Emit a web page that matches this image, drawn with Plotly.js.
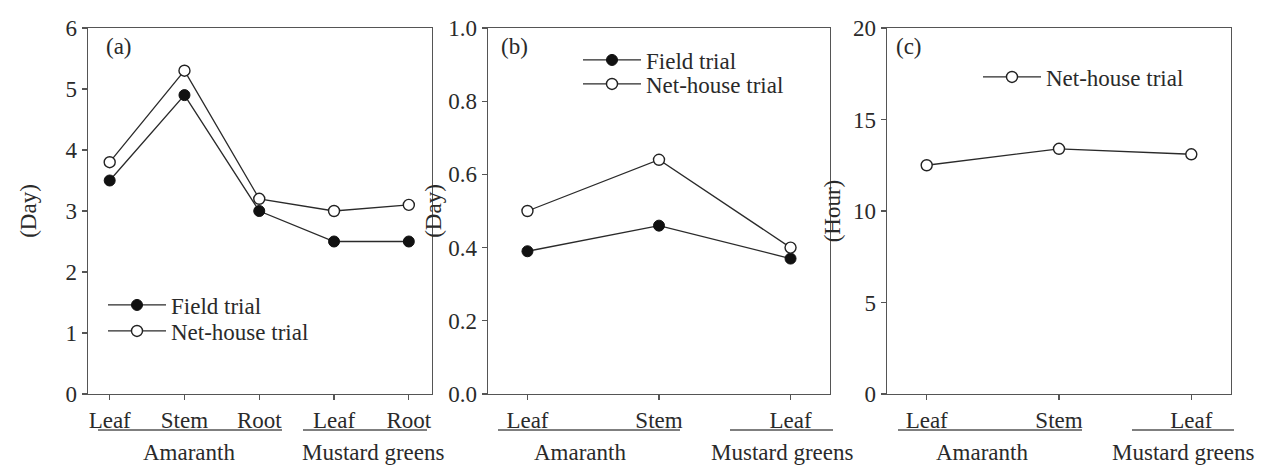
<!DOCTYPE html>
<html>
<head>
<meta charset="utf-8">
<script src="https://cdn.plot.ly/plotly-3.0.1.min.js"></script>
<style>html,body{margin:0;padding:0;background:#fff;}#chart{width:1268px;height:472px;}</style>
</head>
<body>
<div id="chart"></div>
<script>
// ---- data ----
var catsA = ["Leaf", "Stem", "Root", "Leaf", "Root"];
var catsB = ["Leaf", "Stem", "Leaf"];
var catsC = ["Leaf", "Stem", "Leaf"];
var groupsA = ["Amaranth", "Mustard greens"];
var fieldA = [3.5, 4.9, 3.0, 2.5, 2.5];
var netA = [3.8, 5.3, 3.2, 3.0, 3.1];
var fieldB = [0.39, 0.46, 0.37];
var netB = [0.50, 0.64, 0.40];
var netC = [12.5, 13.4, 13.1];
var yTitleA = "(Day)", yTitleB = "(Day)", yTitleC = "(Hour)";
var panelLabels = ["(a)", "(b)", "(c)"];
var seriesNames = ["Field trial", "Net-house trial"];

// ---- layout helpers ----
var W = 1268, H = 472;
function px(x) { return x / W; }
function py(y) { return 1 - y / H; }
function idx(a) { return a.map(function (_, i) { return i; }); }

var FONT = "Liberation Serif, Times New Roman, serif";
var FS = 23;
var INK = "#2a2a2a";
var AX = "#555555";

var lineStyle = { color: INK, width: 1.3 };
var filled = { symbol: "circle", size: 11, color: "#111", line: { color: "#111", width: 1 } };
var open = { symbol: "circle", size: 11, color: "#fff", line: { color: "#222", width: 1.4 } };

var traces = [
  { x: idx(catsA), y: fieldA, xaxis: "x", yaxis: "y", mode: "lines+markers", name: seriesNames[0], line: lineStyle, marker: filled, legend: "legend" },
  { x: idx(catsA), y: netA, xaxis: "x", yaxis: "y", mode: "lines+markers", name: seriesNames[1], line: lineStyle, marker: open, legend: "legend2" },
  { x: idx(catsB), y: fieldB, xaxis: "x2", yaxis: "y2", mode: "lines+markers", name: seriesNames[0], line: lineStyle, marker: filled, legend: "legend3" },
  { x: idx(catsB), y: netB, xaxis: "x2", yaxis: "y2", mode: "lines+markers", name: seriesNames[1], line: lineStyle, marker: open, legend: "legend4" },
  { x: idx(catsC), y: netC, xaxis: "x3", yaxis: "y3", mode: "lines+markers", name: seriesNames[1], line: lineStyle, marker: open, legend: "legend5" }
];

function xAxis(domain, cats, range, anchor) {
  return {
    domain: domain, anchor: anchor, range: range,
    tickmode: "array", tickvals: idx(cats), ticktext: cats,
    showline: true, mirror: true, linecolor: AX, linewidth: 1.4,
    ticks: "outside", ticklen: 5, tickcolor: AX, tickwidth: 1.2,
    showgrid: false, zeroline: false,
    tickfont: { family: FONT, size: FS, color: INK }
  };
}
function yAxis(domain, range, dtick, fmt, title, anchor, standoff) {
  return {
    domain: domain, anchor: anchor, range: range, dtick: dtick, tick0: 0,
    tickformat: fmt,
    showline: true, mirror: true, linecolor: AX, linewidth: 1.4,
    ticks: "outside", ticklen: 5, tickcolor: AX, tickwidth: 1.2,
    showgrid: false, zeroline: false,
    tickfont: { family: FONT, size: FS, color: INK },
    title: { text: title, font: { family: FONT, size: FS, color: INK }, standoff: standoff }
  };
}

var yDom = [py(394), py(28)];

function legendAt(x, y) {
  return {
    x: px(x), y: py(y), xanchor: "left", yanchor: "middle",
    bgcolor: "rgba(0,0,0,0)", borderwidth: 0,
    font: { family: FONT, size: FS, color: INK },
    tracegroupgap: 0, itemwidth: 58
  };
}

// group labels and underlines (group, x-from, x-to, label centre)
var groupSpec = [
  [0, 98, 282, 189], [1, 303, 427, 373],
  [0, 498, 680, 580], [1, 730, 833, 782],
  [0, 898, 1082, 982], [1, 1132, 1234, 1183]
];
var shapes = [];
var annotations = [];
groupSpec.forEach(function (g) {
  shapes.push({ type: "line", xref: "paper", yref: "paper", x0: px(g[1]), x1: px(g[2]), y0: py(430), y1: py(430), line: { color: "#555", width: 1.4 } });
  annotations.push({ text: groupsA[g[0]], xref: "paper", yref: "paper", x: px(g[3]), y: py(452), xanchor: "center", yanchor: "middle", showarrow: false, font: { family: FONT, size: FS, color: INK } });
});
[[104, 47], [499, 47], [894, 47]].forEach(function (p, i) {
  annotations.push({ text: panelLabels[i], xref: "paper", yref: "paper", x: px(p[0]), y: py(p[1]), xanchor: "left", yanchor: "middle", showarrow: false, font: { family: FONT, size: FS, color: INK } });
});

var layout = {
  width: W, height: H,
  margin: { l: 0, r: 0, t: 0, b: 0 },
  paper_bgcolor: "#fff", plot_bgcolor: "#fff",
  showlegend: true,
  xaxis: xAxis([px(88), px(432)], catsA, [-0.29, 4.31], "y"),
  yaxis: yAxis(yDom, [0, 6], 1, "d", yTitleA, "x", 22),
  xaxis2: xAxis([px(488), px(830)], catsB, [-0.3, 2.3], "y2"),
  yaxis2: yAxis(yDom, [0, 1], 0.2, ".1f", yTitleB, "x2", 0),
  xaxis3: xAxis([px(887), px(1231)], catsC, [-0.3, 2.3], "y3"),
  yaxis3: yAxis(yDom, [0, 20], 5, "d", yTitleC, "x3", 6),
  legend: legendAt(103, 305),
  legend2: legendAt(103, 331),
  legend3: legendAt(578, 60),
  legend4: legendAt(578, 84),
  legend5: legendAt(978, 77),
  shapes: shapes,
  annotations: annotations
};

Plotly.newPlot("chart", traces, layout, { displayModeBar: false, staticPlot: true });
</script>
</body>
</html>
